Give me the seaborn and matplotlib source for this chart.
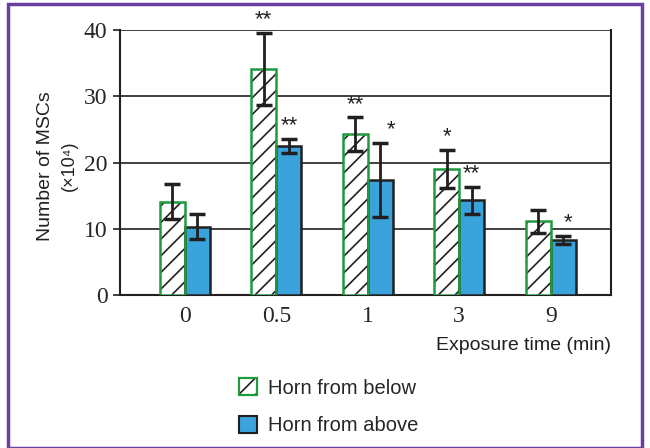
import numpy as np
import pandas as pd
import seaborn as sns
import matplotlib.pyplot as plt
from matplotlib.patches import Patch, Rectangle
from matplotlib.legend_handler import HandlerBase

# data
times = ['0', '0.5', '1', '3', '9']
groups = ['Horn from below', 'Horn from above']
below_mean = [14.1, 34.1, 24.3, 19.0, 11.1]
below_err = [2.6, 5.4, 2.5, 2.9, 1.7]
above_mean = [10.3, 22.5, 17.4, 14.3, 8.3]
above_err = [1.9, 1.0, 5.6, 2.0, 0.6]
below_sig = ['', '**', '**', '*', '']
above_sig = ['', '**', '*', '**', '*']

blue = '#3ba3dc'
green = '#1f9a3e'
dark = '#231f20'
sans = ['Liberation Sans', 'DejaVu Sans']

df = pd.DataFrame({
    'time': times * 2,
    'group': [groups[0]] * 5 + [groups[1]] * 5,
    'value': below_mean + above_mean,
})

sns.set_style('white')
plt.rcParams['hatch.linewidth'] = 1.2

fig = plt.figure(figsize=(6.5, 4.48), dpi=100)
ax = fig.add_axes([0.1846, 0.3415, 0.7554, 0.5915])

sns.barplot(data=df, x='time', y='value', hue='group', order=times,
            hue_order=groups, palette=['white', blue], saturation=1,
            width=0.55, gap=0, errorbar=None, legend=False, ax=ax, zorder=3)

bars = list(ax.patches)
n = len(times)
for p in bars[:n]:
    # black hatch, then a green outline drawn on top
    p.set_facecolor('white')
    p.set_edgecolor(dark)
    p.set_linewidth(0)
    p.set_hatch('//')
    ax.add_patch(Rectangle((p.get_x(), p.get_y()), p.get_width(), p.get_height(),
                           fill=False, edgecolor=green, lw=1.8, zorder=4))
for p in bars[n:2 * n]:
    p.set_edgecolor(dark)
    p.set_linewidth(1.8)

for k, (means, errs, sigs) in enumerate([(below_mean, below_err, below_sig),
                                          (above_mean, above_err, above_sig)]):
    ps = bars[k * n:(k + 1) * n]
    xs = [p.get_x() + p.get_width() / 2 for p in ps]
    ax.errorbar(xs, means, yerr=errs, fmt='none', ecolor=dark, elinewidth=2,
                capsize=6, capthick=2.5, zorder=5)
    for i, (x, m, e, s) in enumerate(zip(xs, means, errs, sigs)):
        if s:
            dx = 0.0
            if k == 1 and s == '*':
                dx = 0.12 if i == 2 else 0.05
            ax.text(x + dx, m + e + 0.4, s, ha='center', va='bottom',
                    fontsize=16, color=dark, zorder=6,
                    family='Liberation Sans')

ax.set_ylim(0, 40)
ax.set_xlim(-0.71, 4.66)
ax.set_yticks([0, 10, 20, 30, 40])
ax.set_yticklabels(['0', '10', '20', '30', '40'], family='Liberation Serif',
                   fontsize=17)
ax.set_xticks(range(n))
ax.set_xticklabels(times, family='Liberation Serif', fontsize=17)
ax.tick_params(axis='y', direction='out', length=5, width=1.2, color=dark,
               pad=4, left=True)
ax.tick_params(axis='x', length=0, pad=8)
for y in [10, 20, 30, 40]:
    ax.axhline(y, color=dark, lw=1.2, zorder=1)
for side in ['left', 'right', 'bottom']:
    ax.spines[side].set_color(dark)
    ax.spines[side].set_linewidth(1.5)
ax.spines['top'].set_visible(False)
ax.set_xlabel('')
ax.set_ylabel('')

fig.text(0.07, 0.63, 'Number of MSCs', rotation=90, ha='center',
         va='center', fontsize=14, family=sans, color=dark)
fig.text(0.107, 0.63, '(×10⁴)', rotation=90, ha='center', va='center',
         fontsize=13, family=sans, color=dark)
fig.text(0.94, 0.228, 'Exposure time (min)', ha='right', va='center',
         fontsize=14, family=sans, color=dark)


class HatchHandler(HandlerBase):
    def create_artists(self, legend, orig, xd, yd, w, h, fontsize, trans):
        r1 = Rectangle((-xd, -yd), w, h, facecolor='white', edgecolor=dark,
                       lw=0, hatch='//', transform=trans)
        r2 = Rectangle((-xd, -yd), w, h, fill=False, edgecolor=green, lw=1.6,
                       transform=trans)
        return [r1, r2]


handles = [Patch(facecolor='white', edgecolor=green),
           Patch(facecolor=blue, edgecolor=dark, lw=1.5)]
fig.legend(handles, groups, loc='center left', bbox_to_anchor=(0.34, 0.092),
           frameon=False, handlelength=0.9, handleheight=0.9,
           handletextpad=0.55, labelspacing=0.9,
           handler_map={handles[0]: HatchHandler()},
           prop={'family': 'Liberation Sans', 'size': 14.5})

fig.patches.append(Rectangle((0.012, 0.0), 0.975, 0.99, transform=fig.transFigure,
                             fill=False, edgecolor='#6b3fa0', lw=2.5))

fig.savefig('out.png', dpi=100)
